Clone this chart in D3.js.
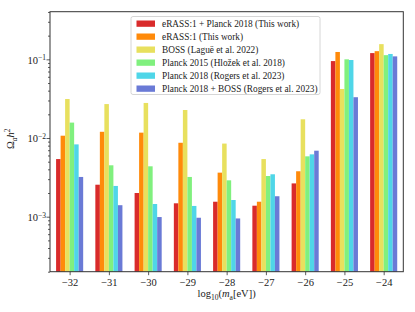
<!DOCTYPE html>
<html>
<head>
<meta charset="utf-8">
<script src="https://cdn.jsdelivr.net/npm/d3@7"></script>
<style>
  body { margin: 0; background: #fff; }
  svg text { font-family: "Liberation Serif", "DejaVu Serif", serif; fill: #222; }
</style>
</head>
<body>
<div id="chart"></div>
<script>
// data
var masses = [-32, -31, -30, -29, -28, -27, -26, -25, -24];
var seriesNames = [
  "eRASS:1 + Planck 2018 (This work)",
  "eRASS:1 (This work)",
  "BOSS (Lagu\u00eb et al. 2022)",
  "Planck 2015 (Hlo\u017eek et al. 2018)",
  "Planck 2018 (Rogers et al. 2023)",
  "Planck 2018 + BOSS (Rogers et al. 2023)"
];
var seriesColors = ["#d92b2b", "#ff8a0a", "#e8e05e", "#80f07e", "#4fd6e8", "#6a7ad6"];
var erassPlanck = [0.0054, 0.00255, 0.0020, 0.00148, 0.00155, 0.00138, 0.00265, 0.095, 0.120];
var erass      = [0.0107, 0.0120, 0.0117, 0.0087, 0.00363, 0.00155, 0.00378, 0.124, 0.127];
var boss       = [0.0313, 0.0270, 0.0279, 0.0227, 0.0085, 0.0054, 0.0173, 0.042, 0.156];
var planck15   = [0.0157, 0.0045, 0.00437, 0.0032, 0.0029, 0.00329, 0.00585, 0.100, 0.113];
var planck18   = [0.0083, 0.00246, 0.00145, 0.00137, 0.00163, 0.00346, 0.0062, 0.098, 0.117];
var planckBoss = [0.0032, 0.0014, 0.00099, 0.00097, 0.00095, 0.00182, 0.0069, 0.033, 0.109];
var yTicks = [1e-3, 1e-2, 1e-1];
var yTickExp = ["\u22123", "\u22122", "\u22121"];

var series = [erassPlanck, erass, boss, planck15, planck18, planckBoss];

var W = 415, H = 312;
var margin = {left: 50, right: 11.7, top: 11.7, bottom: 40.3};
var barW = 0.115;

var svg = d3.select("#chart").append("svg")
  .attr("width", W).attr("height", H);

var x = d3.scaleLinear()
  .domain([-32.5, -23.5])
  .range([margin.left, W - margin.right]);
var y = d3.scaleLog()
  .domain([2e-4, 0.403])
  .range([H - margin.bottom, margin.top]);

// bars
series.forEach(function(vals, i) {
  svg.append("g")
    .selectAll("rect")
    .data(vals)
    .enter()
      .append("rect")
      .attr("x", function(d, j) { return x(masses[j] + (i - 3) * barW); })
      .attr("y", function(d) { return y(d); })
      .attr("width", x(barW) - x(0))
      .attr("height", function(d) { return y.range()[0] - y(d); })
      .attr("fill", seriesColors[i]);
});

// axes
var xAxis = svg.append("g")
  .attr("transform", "translate(0," + y.range()[0] + ")")
  .call(d3.axisBottom(x).tickValues(masses).tickSize(3.5).tickPadding(3)
    .tickFormat(function(z) { return "\u2212" + Math.abs(z); }));
xAxis.selectAll("text").style("font-size", "10.5px").attr("fill", "#222");

var minor = [];
[-4, -3, -2, -1].forEach(function(e) {
  for (var k = 2; k <= 9; k++) {
    var v = k * Math.pow(10, e);
    if (v >= y.domain()[0] && v <= y.domain()[1]) minor.push(v);
  }
});
svg.append("g")
  .attr("transform", "translate(" + margin.left + ",0)")
  .call(d3.axisLeft(y).tickValues(minor).tickSize(2).tickFormat(""));

var yAxis = svg.append("g")
  .attr("transform", "translate(" + margin.left + ",0)")
  .call(d3.axisLeft(y).tickValues(yTicks).tickSize(3.5).tickPadding(3)
    .tickFormat(""));
yAxis.selectAll(".tick").each(function(d, i) {
  var t = d3.select(this).append("text")
    .attr("x", -4)
    .attr("dy", "0.35em")
    .attr("text-anchor", "end")
    .style("font-size", "10.5px");
  t.append("tspan").text("10");
  t.append("tspan").attr("dy", "-0.45em").style("font-size", "7.5px").text(yTickExp[i]);
});

svg.selectAll(".domain").remove();
svg.selectAll(".tick line").attr("stroke", "#333").attr("stroke-width", 0.8);

// frame
svg.append("rect")
  .attr("x", margin.left).attr("y", margin.top)
  .attr("width", W - margin.left - margin.right)
  .attr("height", H - margin.top - margin.bottom)
  .attr("fill", "none")
  .attr("stroke", "#333")
  .attr("stroke-width", 1);

// axis labels
var xl = svg.append("text")
  .attr("x", (x.range()[0] + x.range()[1]) / 2)
  .attr("y", 297)
  .attr("text-anchor", "middle")
  .style("font-size", "10.5px");
xl.append("tspan").text("log");
xl.append("tspan").attr("dy", 2.5).style("font-size", "7.5px").text("10");
xl.append("tspan").attr("dy", -2.5).text("(");
xl.append("tspan").style("font-style", "italic").text("m");
xl.append("tspan").attr("dy", 2.5).style("font-size", "7.5px").text("a");
xl.append("tspan").attr("dy", -2.5).text("[eV])");

var yl = svg.append("text")
  .attr("transform", "translate(14," + ((y.range()[0] + y.range()[1]) / 2 - 3) + ") rotate(-90)")
  .attr("text-anchor", "middle")
  .style("font-size", "10.5px");
yl.append("tspan").text("\u03a9");
yl.append("tspan").attr("dy", 2.5).style("font-size", "7.5px").style("font-style", "italic").text("a");
yl.append("tspan").attr("dy", -2.5).style("font-style", "italic").text("h");
yl.append("tspan").attr("dy", -4).style("font-size", "7.5px").text("2");

// legend
var lg = svg.append("g").attr("transform", "translate(131,16.5)");
lg.append("rect")
  .attr("width", 189).attr("height", 78)
  .attr("rx", 2)
  .attr("fill", "#fff")
  .attr("fill-opacity", 0.8)
  .attr("stroke", "#ccc")
  .attr("stroke-width", 0.8);
seriesNames.forEach(function(name, i) {
  var row = lg.append("g").attr("transform", "translate(0," + (6.8 + i * 13) + ")");
  row.append("rect")
    .attr("x", 5.5).attr("y", -2.8)
    .attr("width", 18.5).attr("height", 6.3)
    .attr("fill", seriesColors[i]);
  row.append("text")
    .attr("x", 31)
    .attr("y", 0.5)
    .attr("dy", "0.35em")
    .style("font-size", "9.3px")
    .text(name);
});
</script>
</body>
</html>
